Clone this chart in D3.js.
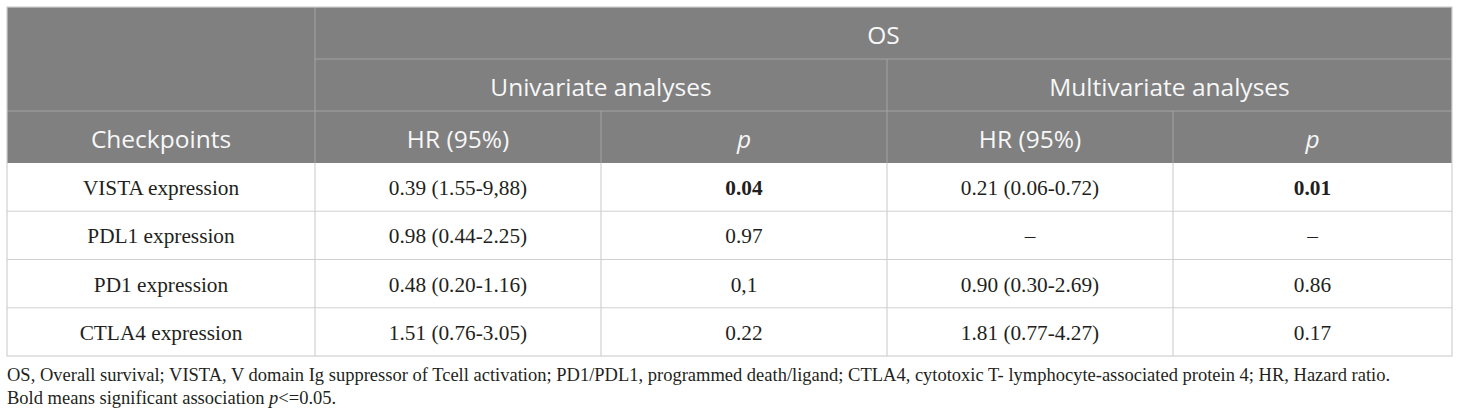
<!DOCTYPE html>
<html>
<head>
<meta charset="utf-8">
<script src="https://cdn.jsdelivr.net/npm/d3@7"></script>
<style>
  body { margin: 0; background: #fff; }
  svg { display: block; }
</style>
</head>
<body>
<svg id="table"></svg>
<script>
const groupTitle = 'OS';
const analyses = ['Univariate analyses', 'Multivariate analyses'];
const columnHeads = ['Checkpoints', 'HR (95%)', 'p', 'HR (95%)', 'p'];
const checkpoints = ['VISTA expression', 'PDL1 expression', 'PD1 expression', 'CTLA4 expression'];
const uniHR = ['0.39 (1.55-9,88)', '0.98 (0.44-2.25)', '0.48 (0.20-1.16)', '1.51 (0.76-3.05)'];
const uniP = ['0.04', '0.97', '0,1', '0.22'];
const multiHR = ['0.21 (0.06-0.72)', '–', '0.90 (0.30-2.69)', '1.81 (0.77-4.27)'];
const multiP = ['0.01', '–', '0.86', '0.17'];
const footnotes = [
    'OS, Overall survival; VISTA, V domain Ig suppressor of Tcell activation; PD1/PDL1, programmed death/ligand; CTLA4, cytotoxic T- lymphocyte-associated protein 4; HR, Hazard ratio.',
    'Bold means significant association '
];

const width = 1460;
const height = 418;
const svg = d3.select('#table').attr('width', width).attr('height', height);

// column edges
const colEdges = [7, 315, 601, 887, 1173, 1452];
const left = colEdges[0], right = colEdges[5];
const headTop = 7, headBottom = 163, bodyBottom = 356;

const yHead = d3.scaleLinear().domain([0, 3]).range([headTop, headBottom]);
const yBody = d3.scaleBand().domain(checkpoints).range([headBottom, bodyBottom]);

const headFont = '"Open Sans", "Noto Sans", sans-serif';
const bodyFont = '"Liberation Serif", "DejaVu Serif", serif';

// header background
svg.append('rect')
    .attr('x', left).attr('y', headTop)
    .attr('width', right - left).attr('height', headBottom - headTop)
    .attr('fill', '#808080');

const headLines = svg.append('g').attr('stroke', '#a3a3a3').attr('stroke-width', 1);
headLines.append('line').attr('x1', colEdges[1]).attr('x2', right).attr('y1', yHead(1)).attr('y2', yHead(1));
headLines.append('line').attr('x1', left).attr('x2', right).attr('y1', yHead(2)).attr('y2', yHead(2));
headLines.append('line').attr('x1', colEdges[1]).attr('x2', colEdges[1]).attr('y1', headTop).attr('y2', headBottom);
headLines.append('line').attr('x1', colEdges[3]).attr('x2', colEdges[3]).attr('y1', yHead(1)).attr('y2', headBottom);
[2, 4].forEach(i => {
    headLines.append('line').attr('x1', colEdges[i]).attr('x2', colEdges[i]).attr('y1', yHead(2)).attr('y2', headBottom);
});

const headText = svg.append('g')
    .attr('fill', '#f7f7f7')
    .attr('font-family', headFont)
    .attr('font-size', 24.5)
    .attr('text-anchor', 'middle')
    .attr('dominant-baseline', 'central');

headText.append('text')
    .attr('x', (colEdges[1] + right) / 2).attr('y', (yHead(0) + yHead(1)) / 2 + 1)
    .text(groupTitle);

headText.selectAll('.analysis')
    .data(analyses)
    .enter().append('text')
    .attr('class', 'analysis')
    .attr('x', (d, i) => (colEdges[1 + i * 2] + colEdges[3 + i * 2]) / 2)
    .attr('y', (yHead(1) + yHead(2)) / 2 + 1)
    .text(d => d);

headText.selectAll('.colhead')
    .data(columnHeads)
    .enter().append('text')
    .attr('class', 'colhead')
    .attr('x', (d, i) => (colEdges[i] + colEdges[i + 1]) / 2)
    .attr('y', (yHead(2) + yHead(3)) / 2 + 1)
    .attr('font-style', d => d === 'p' ? 'italic' : null)
    .text(d => d);

// body grid
const bodyLines = svg.append('g').attr('stroke', '#d0d0d0').attr('stroke-width', 1.2).attr('fill', 'none');
bodyLines.selectAll('.hline')
    .data(checkpoints.slice(1))
    .enter().append('line')
    .attr('x1', left).attr('x2', right)
    .attr('y1', d => yBody(d)).attr('y2', d => yBody(d));
bodyLines.selectAll('.vline')
    .data(colEdges.slice(1, 5))
    .enter().append('line')
    .attr('x1', d => d).attr('x2', d => d)
    .attr('y1', headBottom).attr('y2', bodyBottom);
bodyLines.append('rect')
    .attr('x', left).attr('y', headTop)
    .attr('width', right - left).attr('height', bodyBottom - headTop);

// body cells
const isSig = v => parseFloat(v.replace(',', '.')) <= 0.05;
const rows = checkpoints.map((c, i) => [c, uniHR[i], uniP[i], multiHR[i], multiP[i]]);

const rowG = svg.selectAll('.row')
    .data(rows)
    .enter().append('g')
    .attr('class', 'row')
    .attr('transform', (d, i) => `translate(0,${yBody(checkpoints[i]) + yBody.bandwidth() / 2 + 1})`);

rowG.selectAll('text')
    .data(d => d)
    .enter().append('text')
    .attr('x', (d, i) => (colEdges[i] + colEdges[i + 1]) / 2)
    .attr('text-anchor', 'middle')
    .attr('dominant-baseline', 'central')
    .attr('font-family', bodyFont)
    .attr('font-size', 21.3)
    .attr('fill', '#231f20')
    .attr('font-weight', (d, i) => (i === 2 || i === 4) && isSig(d) ? 'bold' : null)
    .text(d => d);

// footnotes
const foot = svg.append('g')
    .attr('font-family', bodyFont)
    .attr('font-size', 18.5)
    .attr('fill', '#231f20');

foot.append('text').attr('x', left).attr('y', 381).text(footnotes[0]);
const f2 = foot.append('text').attr('x', left).attr('y', 404).text(footnotes[1]);
f2.append('tspan').attr('font-style', 'italic').text('p');
f2.append('tspan').text('<=0.05.');
</script>
</body>
</html>
